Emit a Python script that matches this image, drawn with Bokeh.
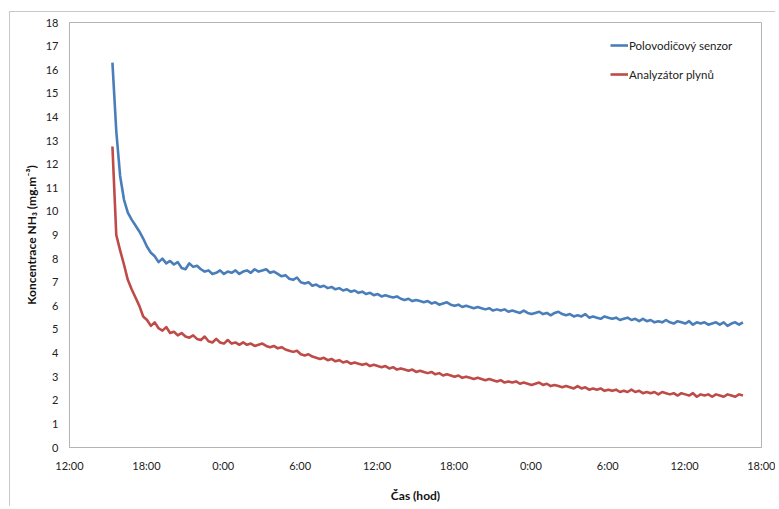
import numpy as np
from bokeh.plotting import figure
from bokeh.models import FixedTicker, Legend, LegendItem, Range1d
from bokeh.embed import file_html
from bokeh.resources import INLINE

# time axis: hours since 12:00 of day 1
tick_hours = [0, 6, 12, 18, 24, 30, 36, 42, 48, 54]
tick_labels = ["12:00", "18:00", "0:00", "6:00", "12:00", "18:00", "0:00", "6:00", "12:00", "18:00"]
y_ticks = list(range(0, 19))

t_start = 3.35   # first sample (h after 12:00)
t_step = 0.3     # sampling interval (h)

sensor = [16.3, 13.4, 11.5, 10.5, 9.95, 9.65, 9.4, 9.15, 8.85, 8.5,
          8.25, 8.1, 7.85, 8.0, 7.8, 7.9, 7.75, 7.85, 7.6, 7.55,
          7.8, 7.65, 7.7, 7.55, 7.45, 7.5, 7.35, 7.4, 7.5, 7.35,
          7.45, 7.4, 7.5, 7.35, 7.45, 7.5, 7.4, 7.55, 7.45, 7.5,
          7.55, 7.4, 7.45, 7.35, 7.25, 7.3, 7.15, 7.1, 7.2, 7.0,
          6.95, 7.0, 6.85, 6.9, 6.8, 6.85, 6.75, 6.8, 6.7, 6.75,
          6.65, 6.7, 6.6, 6.65, 6.55, 6.6, 6.5, 6.55, 6.45, 6.5,
          6.4, 6.45, 6.4, 6.35, 6.4, 6.3, 6.25, 6.3, 6.2, 6.25,
          6.2, 6.15, 6.2, 6.1, 6.15, 6.05, 6.1, 6.15, 6.05, 6.0,
          6.05, 5.95, 6.0, 5.95, 5.9, 5.95, 5.9, 5.85, 5.9, 5.8,
          5.85, 5.8, 5.85, 5.75, 5.8, 5.75, 5.7, 5.8, 5.7, 5.65,
          5.7, 5.75, 5.65, 5.7, 5.6, 5.7, 5.75, 5.65, 5.6, 5.65,
          5.55, 5.6, 5.55, 5.65, 5.5, 5.55, 5.5, 5.45, 5.55, 5.5,
          5.45, 5.5, 5.4, 5.45, 5.5, 5.4, 5.45, 5.35, 5.45, 5.35,
          5.4, 5.3, 5.35, 5.3, 5.4, 5.3, 5.25, 5.35, 5.3, 5.25,
          5.35, 5.2, 5.3, 5.25, 5.3, 5.2, 5.25, 5.3, 5.2, 5.3,
          5.15, 5.25, 5.3, 5.2, 5.3]

analyzer = [12.75, 9.0, 8.35, 7.75, 7.1, 6.7, 6.35, 6.0, 5.55, 5.4,
            5.15, 5.3, 5.05, 4.95, 5.1, 4.85, 4.9, 4.75, 4.85, 4.7,
            4.65, 4.75, 4.6, 4.55, 4.7, 4.5, 4.45, 4.6, 4.45, 4.4,
            4.55, 4.4, 4.45, 4.35, 4.45, 4.35, 4.4, 4.3, 4.35, 4.4,
            4.3, 4.25, 4.3, 4.2, 4.25, 4.15, 4.1, 4.05, 4.1, 3.95,
            3.9, 3.95, 3.85, 3.8, 3.75, 3.8, 3.7, 3.75, 3.65, 3.7,
            3.6, 3.65, 3.55, 3.6, 3.55, 3.5, 3.55, 3.45, 3.5, 3.45,
            3.4, 3.45, 3.35, 3.4, 3.3, 3.35, 3.3, 3.25, 3.3, 3.2,
            3.25, 3.2, 3.15, 3.2, 3.1, 3.15, 3.05, 3.1, 3.05, 3.0,
            3.05, 2.95, 3.0, 2.95, 2.9, 2.95, 2.9, 2.85, 2.9, 2.85,
            2.8, 2.85, 2.75, 2.8, 2.75, 2.8, 2.7, 2.75, 2.7, 2.65,
            2.7, 2.75, 2.65, 2.7, 2.6, 2.65, 2.6, 2.55, 2.6, 2.55,
            2.5, 2.6, 2.5, 2.55, 2.45, 2.5, 2.45, 2.5, 2.4, 2.45,
            2.4, 2.45, 2.35, 2.4, 2.35, 2.45, 2.35, 2.4, 2.3, 2.35,
            2.3, 2.35, 2.25, 2.35, 2.3, 2.25, 2.3, 2.2, 2.3, 2.25,
            2.2, 2.3, 2.15, 2.25, 2.2, 2.25, 2.15, 2.25, 2.2, 2.15,
            2.25, 2.2, 2.15, 2.25, 2.2]

series_names = ["Polovodičový senzor", "Analyzátor plynů"]
series_colors = ["#4a7ebb", "#be4b48"]

FONT = "Lato"
GRAY = "#b4b4b4"

p = figure(width=766, height=495, output_backend="svg", toolbar_location=None,
           x_range=Range1d(0, 54), y_range=Range1d(0, 18),
           min_border_left=59, min_border_top=10, min_border_right=15, min_border_bottom=60)
p.styles = {"margin-left": "9px", "margin-top": "11px",
            "border-top": "1px solid #c8c8c8", "border-left": "1px solid #c8c8c8"}
p.background_fill_color = "white"
p.border_fill_color = "white"
p.outline_line_color = GRAY
p.outline_line_width = 1
p.grid.visible = False

renderers = []
for vals, col in zip([sensor, analyzer], series_colors):
    t = t_start + t_step * np.arange(len(vals))
    r = p.line(t, vals, line_color=col, line_width=2.6, line_join="round")
    renderers.append(r)

xa = p.xaxis[0]
xa.ticker = FixedTicker(ticks=tick_hours)
xa.major_label_overrides = {h: lab for h, lab in zip(tick_hours, tick_labels)}
xa.axis_label = "Čas (hod)"
xa.major_label_standoff = 5
xa.axis_label_standoff = 13

ya = p.yaxis[0]
ya.ticker = FixedTicker(ticks=y_ticks)
ya.axis_label = "Koncentrace NH₃ (mg.m⁻³)"
ya.major_label_standoff = 5
ya.axis_label_standoff = 4

for ax in (xa, ya):
    ax.axis_line_color = GRAY
    ax.major_tick_line_color = None
    ax.minor_tick_line_color = None
    ax.major_label_text_font = FONT
    ax.major_label_text_font_size = "11px"
    ax.major_label_text_color = "#222222"
    ax.axis_label_text_font = FONT
    ax.axis_label_text_font_size = "12px"
    ax.axis_label_text_font_style = "bold"
    ax.axis_label_text_color = "#111111"

legend = Legend(items=[LegendItem(label=n, renderers=[r]) for n, r in zip(series_names, renderers)],
                location=(541, 363), padding=5, spacing=9, label_standoff=1,
                glyph_width=18, glyph_height=20, label_height=20,
                label_text_font=FONT, label_text_font_size="11.5px", label_text_color="#222222",
                border_line_color=None, background_fill_alpha=0)
p.add_layout(legend, "center")

open("out.html", "w").write(file_html(p, INLINE))
